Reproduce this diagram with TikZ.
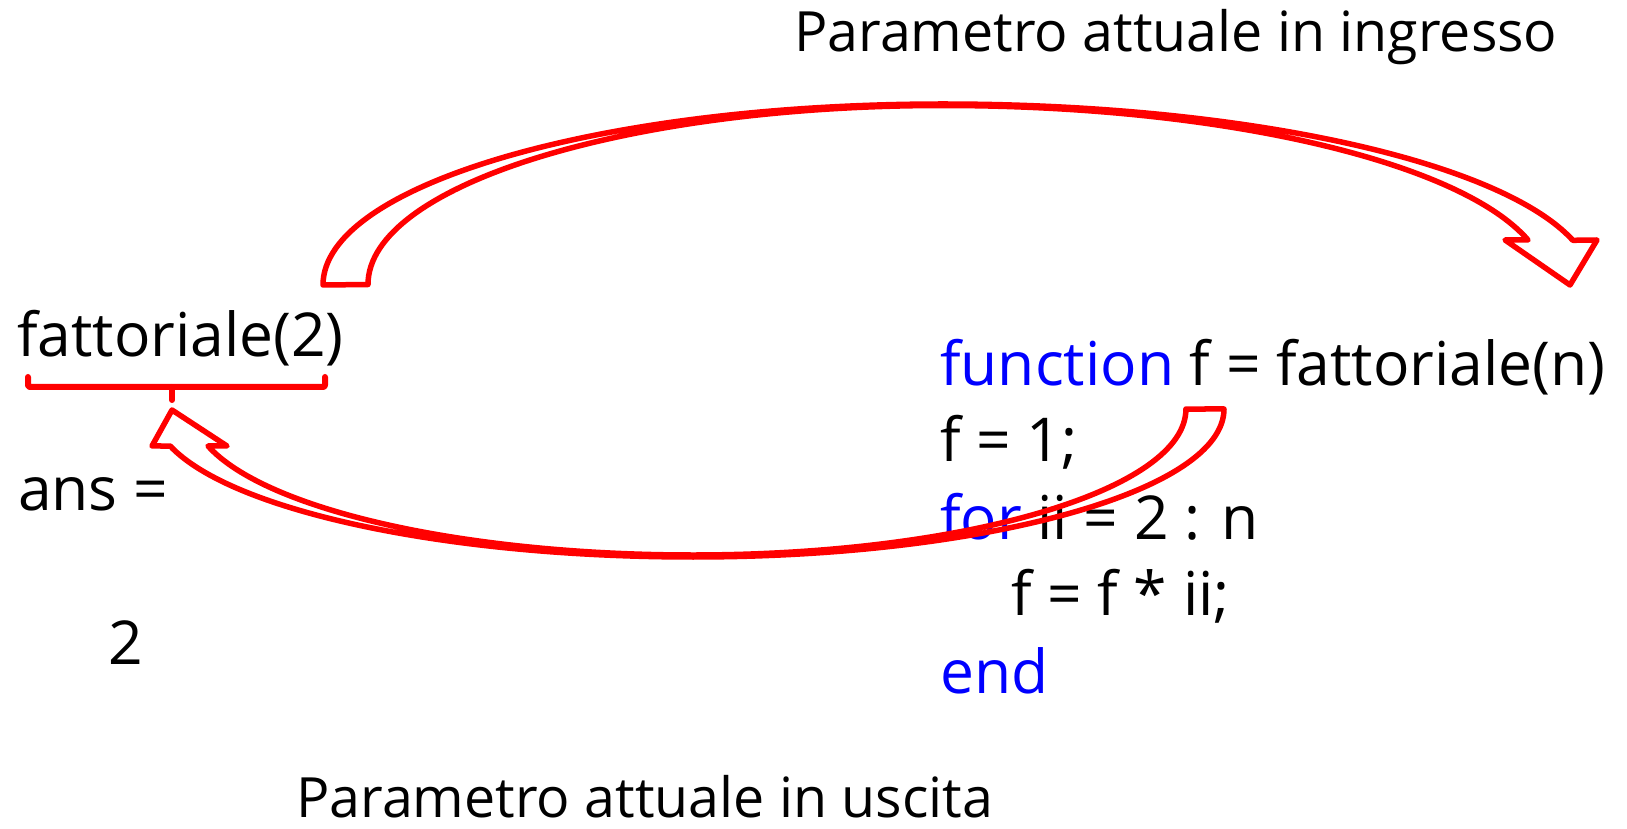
\documentclass[tikz,border=0pt]{standalone}
\usepackage{fontspec}
\setmainfont{Open Sans}
\definecolor{kwblue}{RGB}{0,0,255}
\definecolor{arrred}{RGB}{255,0,0}
\begin{document}
\begin{tikzpicture}[x=1pt,y=1pt,
  label/.style={anchor=base west,inner sep=0pt,font=\fontsize{55.5}{60}\selectfont},
  code/.style={anchor=base west,inner sep=0pt,font=\fontsize{60.5}{66}\selectfont},
  blockarrow/.style={draw=arrred,line width=5.5pt,line join=round,line cap=round},
  bracketline/.style={draw=arrred,line width=6pt,line cap=round,line join=round}]
\useasboundingbox (0,0) rectangle (1627,828);
% texts
\node[label] (title) at (794,776) {Parametro attuale in ingresso};
\node[code] (call) at (17,471) {fattoriale(2)};
\node[code] (ans) at (18,317) {ans =};
\node[code] (res) at (108,164) {2};
\node[code] (c1) at (940,442) {\textcolor{kwblue}{function} f = fattoriale(n)};
\node[code] (c2) at (940,366) {f = 1;};
\node[code] (c3) at (940,288) {\textcolor{kwblue}{for} ii = 2 : n};
\node[code] (c4) at (1011,213) {f = f * ii;};
\node[code] (c5) at (940,135) {\textcolor{kwblue}{end}};
\node[label] (bottom) at (296,11) {Parametro attuale in uscita};
% bracket under the call
\coordinate (bl) at (28,451);
\coordinate (br) at (325,451);
\coordinate (bm) at (172,441);
\coordinate (btick) at (172,428);
\draw[bracketline,rounded corners=2pt] (bl) -- (28,441) -- (325,441) -- (br);
\draw[bracketline] (bm) -- (btick);
% top curved arrow (input)
\draw[blockarrow] (323,543)
  arc[start angle=180,end angle=90,x radius=620,y radius=181]
  arc[start angle=90,end angle=14.3,x radius=650,y radius=181]
  -- (1597,588) -- (1570,543) -- (1505,588) -- (1528,588)
  arc[start angle=14.4,end angle=90,x radius=604,y radius=179]
  arc[start angle=90,end angle=180,x radius=575,y radius=179]
  -- cycle;
% bottom curved arrow (output)
\draw[blockarrow] (1224,419)
  arc[start angle=0,end angle=-90,x radius=531,y radius=148]
  arc[start angle=-90,end angle=-165.52,x radius=540,y radius=148]
  -- (152,382) -- (172,418) -- (227,382) -- (208,382)
  arc[start angle=-165.32,end angle=-90,x radius=501.3,y radius=146]
  arc[start angle=-90,end angle=0,x radius=493,y radius=146]
  -- cycle;
\end{tikzpicture}
\end{document}
